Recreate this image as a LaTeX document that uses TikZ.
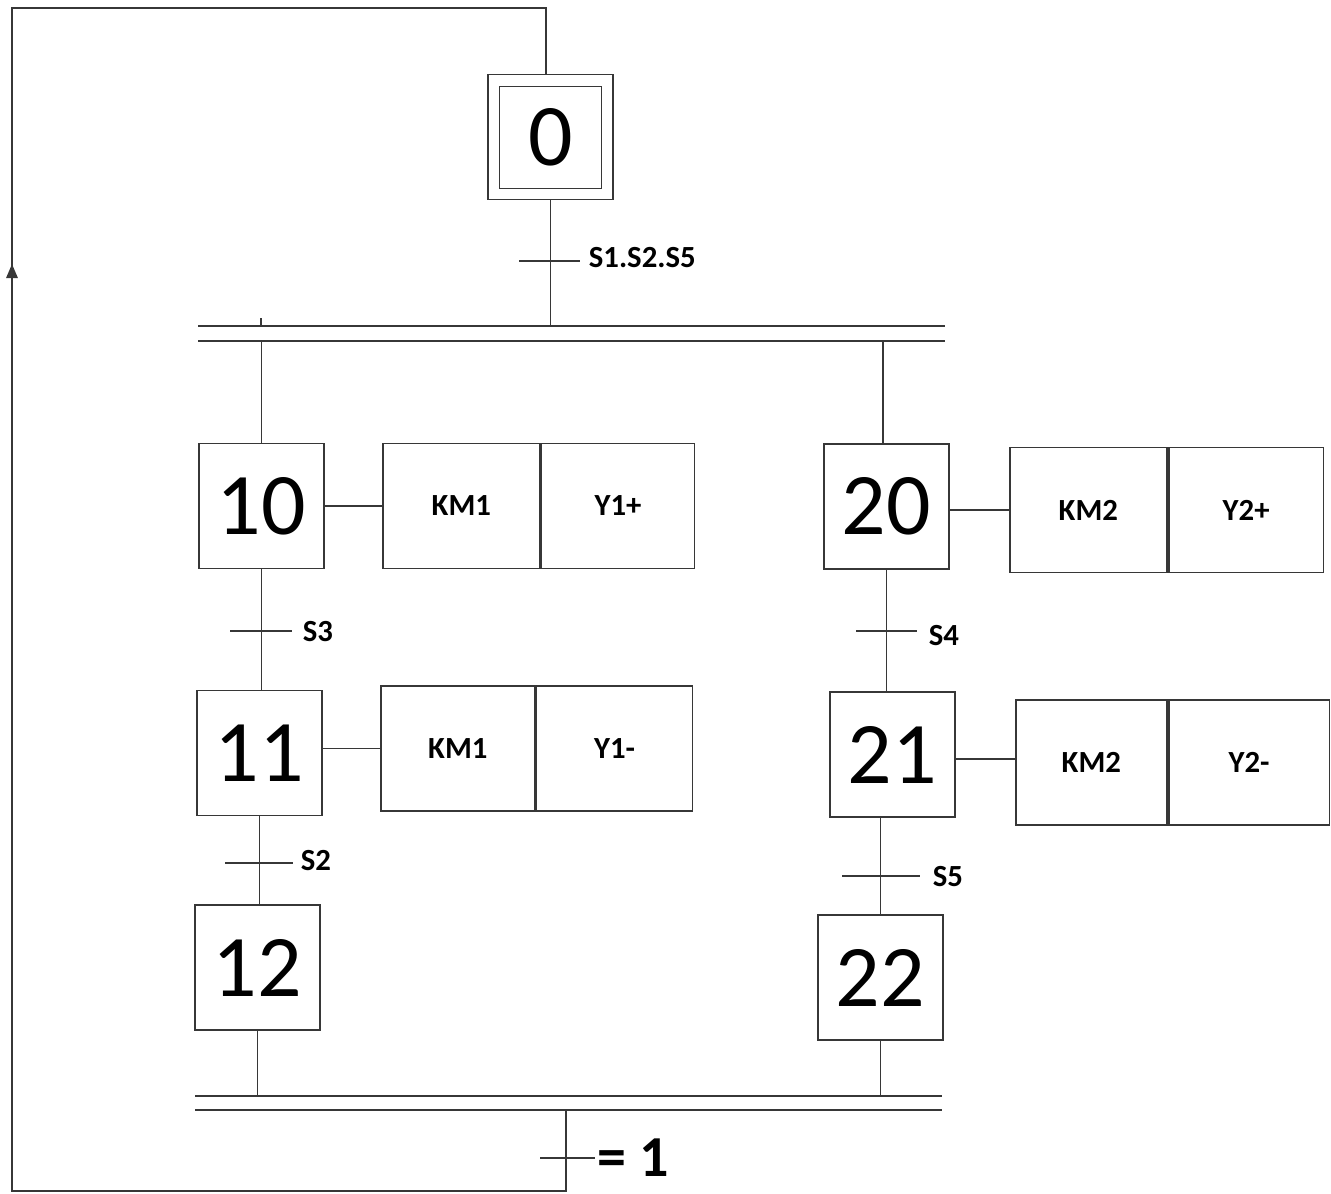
\documentclass[tikz,border=0pt]{standalone}
\usepackage{fontspec}
\setmainfont{Carlito}
\usetikzlibrary{arrows.meta}
\definecolor{trait}{RGB}{55,55,55}

\begin{document}
\begin{tikzpicture}[x=0.02cm, y=-0.02cm, line width=1pt, draw=trait,
  etape/.style={draw=trait, minimum size=2.5cm, inner sep=0pt, font=\fontsize{50}{54}\selectfont},
  action/.style={draw=trait, minimum height=2.5cm, inner sep=0pt, anchor=west, font=\fontsize{17.5}{20}\selectfont\bfseries},
  recept/.style={anchor=west, inner sep=0pt, font=\fontsize{17.5}{20}\selectfont\bfseries}]

  \useasboundingbox (0,0) rectangle (1331,1193);

  % initial step
  \node[etape] (e0) at (550.5,137) {};
  \node[etape, minimum size=2.04cm] (e0i) at (550.5,137.5) {0};

  % left branch
  \node[etape] (e10) at (261.5,506) {10};
  \node[etape] (e11) at (259.5,753) {11};
  \node[etape] (e12) at (257.5,967.5) {12};

  % right branch
  \node[etape] (e20) at (886.5,506.5) {20};
  \node[etape] (e21) at (892.5,754.5) {21};
  \node[etape] (e22) at (880.5,977.5) {22};

  % actions
  \node[action, minimum width=3.14cm] (a10k) at (382,506) {KM1};
  \node[action, minimum width=3.06cm] (a10y) at (a10k.east) {Y1+};
  \node[action, minimum width=3.08cm] (a11k) at (380,748.5) {KM1};
  \node[action, minimum width=3.12cm] (a11y) at (a11k.east) {Y1-};
  \node[action, minimum width=3.14cm] (a20k) at (1009,510) {KM2};
  \node[action, minimum width=3.10cm] (a20y) at (a20k.east) {Y2+};
  \node[action, minimum width=3.02cm] (a21k) at (1015,762.5) {KM2};
  \node[action, minimum width=3.22cm] (a21y) at (a21k.east) {Y2-};

  \draw (a10k.west) -- (a10k.west -| e10.east);
  \draw (a11k.west) -- (a11k.west -| e11.east);
  \draw (a20k.west) -- (a20k.west -| e20.east);
  \draw (a21k.west) ++(0,-3.5) -- ++(-60,0);

  % double bars (divergence / convergence)
  \coordinate (dh1) at (198,326);
  \coordinate (dh2) at (198,341);
  \coordinate (db1) at (195,1096);
  \coordinate (db2) at (195,1110);
  \draw (dh1) -- (945,326);
  \draw (dh2) -- (945,341);
  \draw (db1) -- (942,1096);
  \draw (db2) -- (942,1110);
  \draw (261,318) -- (261,326);

  % links
  \draw (e0.south) -- (e0.south |- dh1);
  \draw (e10.north) -- (e10.north |- dh2);
  \draw (883,341) -- (e20.north -| 883,0);
  \draw (e10.south) -- (e10.south |- e11.north);
  \draw (e11.south) -- (e11.south |- e12.north);
  \draw (e12.south) -- (e12.south |- db1);
  \draw (e20.south) -- (e20.south |- e21.north);
  \draw (e22.north |- e21.south) -- (e22.north);
  \draw (e22.south) -- (e22.south |- db1);

  % transitions
  \draw (519,261) -- (580,261);
  \node[recept] (t0) at (588,258) {S1.S2.S5};
  \draw (230,631) -- (292,631);
  \node[recept] (t10) at (302,632) {S3};
  \draw (225,863) -- (293,863);
  \node[recept] (t11) at (300,861) {S2};
  \draw (856,631) -- (917,631);
  \node[recept] (t20) at (928,636) {S4};
  \draw (842,876) -- (920,876);
  \node[recept] (t21) at (932,877) {S5};
  \draw (540,1158) -- (595,1158);
  \node[recept, font=\fontsize{33}{36}\selectfont\bfseries] (tfin) at (597,1158) {= 1};

  % loop back to initial step
  \coordinate (fin) at (566,1191);
  \coordinate (coin) at (12,8);
  \draw (fin |- db2) -- (fin) -| (coin) -| ([xshift=-4.5*0.02cm]e0.north);
  \draw[-{Triangle[length=8pt, width=6.5pt]}] (fin -| coin) -- (12,264);

\end{tikzpicture}
\end{document}
